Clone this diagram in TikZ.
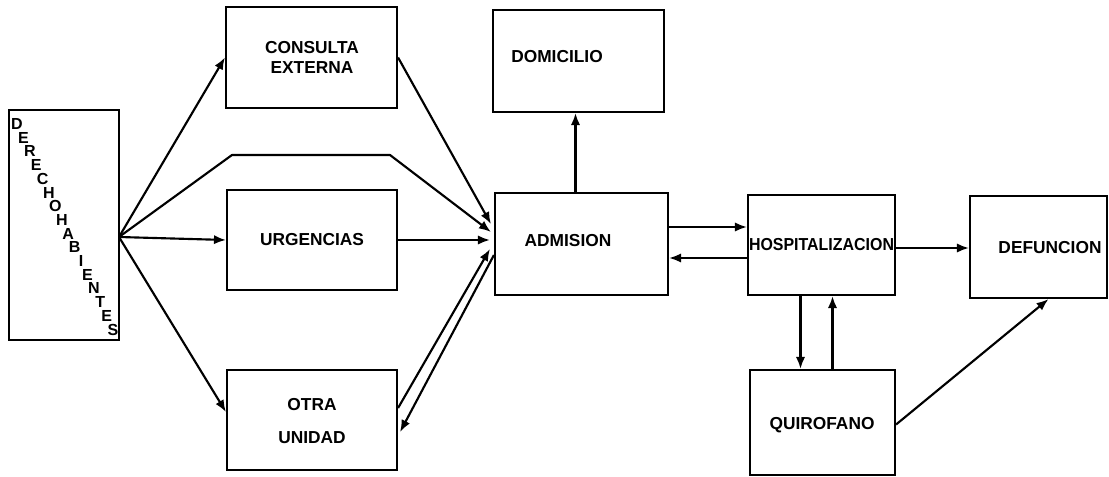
\documentclass[tikz,border=0pt]{standalone}
\usepackage{fontspec}
\setmainfont{Liberation Sans}
\usetikzlibrary{arrows.meta,calc}
\begin{document}
\begin{tikzpicture}[x=0.75pt,y=-0.75pt,
  box/.style={draw, line width=1.6pt, inner sep=0pt},
  lbl/.style={font=\bfseries\fontsize{13}{15}\selectfont, inner sep=0pt, align=center},
  let/.style={font=\bfseries\fontsize{12}{12}\selectfont, inner sep=0pt},
  arr/.style={-{Latex[length=9pt,width=7pt]}, line width=1.6pt, line join=round},
  ln/.style={line width=1.6pt}]
\useasboundingbox (0,0) rectangle (1109,477);
% boxes
\node[box, minimum width=110*0.75pt, minimum height=230*0.75pt] (der) at (64,225) {};
\node[box, minimum width=171*0.75pt, minimum height=101*0.75pt] (ce) at (311.5,57.5) {};
\node[box, minimum width=170*0.75pt, minimum height=100*0.75pt] (urg) at (312,240) {};
\node[box, minimum width=170*0.75pt, minimum height=100*0.75pt] (otra) at (312,420) {};
\node[box, minimum width=171*0.75pt, minimum height=102*0.75pt] (dom) at (578.5,61) {};
\node[box, minimum width=173*0.75pt, minimum height=102*0.75pt] (adm) at (581.5,244) {};
\node[box, minimum width=147*0.75pt, minimum height=100*0.75pt] (hosp) at (821.5,245) {};
\node[box, minimum width=137*0.75pt, minimum height=102*0.75pt] (def) at (1038.5,247) {};
\node[box, minimum width=145*0.75pt, minimum height=105*0.75pt] (quir) at (822.5,422.5) {};
% labels
\node[lbl] (tce) at (312,57) {CONSULTA\\EXTERNA};
\node[lbl] (turg) at (312,240) {URGENCIAS};
\node[lbl] (totra) at (312,421) {OTRA\\[10pt]UNIDAD};
\node[lbl] (tdom) at (557,57) {DOMICILIO};
\node[lbl] (tadm) at (568,241) {ADMISION};
\node[lbl] (thosp) at (821.5,245) {\scalebox{0.92}[1]{HOSPITALIZACION}};
\node[lbl] (tdef) at (1050,248) {DEFUNCION};
\node[lbl] (tquir) at (822,425) {QUIROFANO};
% vertical diagonal word
\foreach \c [count=\i from 0] in {D,E,R,E,C,H,O,H,A,B,I,E,N,T,E,S}
  \node[let] (w\i) at (17+6.4*\i,124+13.7*\i) {\c};
% connectors
\coordinate (fan) at (119,237);
\draw[arr] (fan) -- (ce.west);
\draw[arr] (fan) -- (232,155) -- (390,155) -- ($(adm.west)+(-3,-12)$);
\draw[arr] (fan) -- (urg.west);
\draw[arr] (fan) -- ($(otra.west)+(0,-8)$);
\draw[arr] (ce.east) -- ($(adm.west)+(-3,-20)$);
\draw[arr] (urg.east) -- ($(adm.west)+(-4,-4)$);
\draw[arr] ($(otra.east)+(0,-12)$) -- ($(adm.west)+(-4,5)$);
\draw[arr] ($(adm.west)+(0,11)$) -- ($(otra.east)+(2,12)$);
\draw[arr] ($(adm.north)+(-6,0)$) -- ($(dom.south)+(-3,0)$);
\draw[arr] ($(adm.east)+(0,-17)$) -- ($(hosp.west)+(0,-18)$);
\draw[arr] ($(hosp.west)+(0,13)$) -- ($(adm.east)+(0,14)$);
\draw[arr] ($(hosp.east)+(0,3)$) -- ($(def.west)+(0,1)$);
\draw[arr] ($(hosp.south)+(-21,0)$) -- ($(quir.north)+(-22,0)$);
\draw[arr] ($(quir.north)+(10,0)$) -- ($(hosp.south)+(11,0)$);
\draw[arr] ($(quir.east)+(0,2)$) -- ($(def.south)+(10,0)$);
\end{tikzpicture}
\end{document}
